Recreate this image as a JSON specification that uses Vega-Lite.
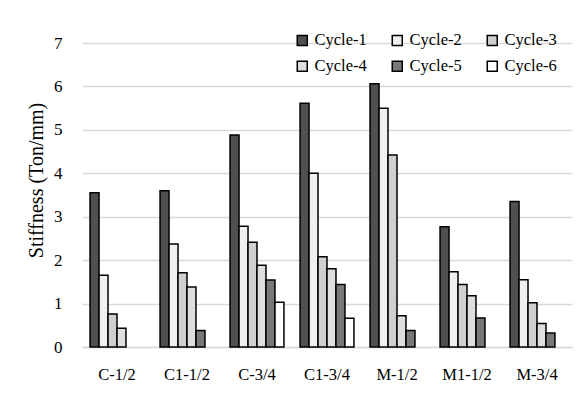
{
  "$schema": "https://vega.github.io/schema/vega-lite/v6.json",
  "width": 490,
  "height": 304,
  "autosize": {"type": "none"},
  "padding": {"left": 82, "top": 43, "right": 13, "bottom": 46},
  "background": "white",
  "config": {
    "view": {"stroke": null},
    "font": "Liberation Serif"
  },
  "data": {
    "values": [
      {"specimen": "C-1/2", "cycle": "Cycle-1", "stiffness": 3.55},
      {"specimen": "C-1/2", "cycle": "Cycle-2", "stiffness": 1.65},
      {"specimen": "C-1/2", "cycle": "Cycle-3", "stiffness": 0.76},
      {"specimen": "C-1/2", "cycle": "Cycle-4", "stiffness": 0.43},
      {"specimen": "C1-1/2", "cycle": "Cycle-1", "stiffness": 3.6},
      {"specimen": "C1-1/2", "cycle": "Cycle-2", "stiffness": 2.37},
      {"specimen": "C1-1/2", "cycle": "Cycle-3", "stiffness": 1.71},
      {"specimen": "C1-1/2", "cycle": "Cycle-4", "stiffness": 1.38},
      {"specimen": "C1-1/2", "cycle": "Cycle-5", "stiffness": 0.38},
      {"specimen": "C-3/4", "cycle": "Cycle-1", "stiffness": 4.88},
      {"specimen": "C-3/4", "cycle": "Cycle-2", "stiffness": 2.78},
      {"specimen": "C-3/4", "cycle": "Cycle-3", "stiffness": 2.41},
      {"specimen": "C-3/4", "cycle": "Cycle-4", "stiffness": 1.88},
      {"specimen": "C-3/4", "cycle": "Cycle-5", "stiffness": 1.54},
      {"specimen": "C-3/4", "cycle": "Cycle-6", "stiffness": 1.03},
      {"specimen": "C1-3/4", "cycle": "Cycle-1", "stiffness": 5.61},
      {"specimen": "C1-3/4", "cycle": "Cycle-2", "stiffness": 4.0},
      {"specimen": "C1-3/4", "cycle": "Cycle-3", "stiffness": 2.08},
      {"specimen": "C1-3/4", "cycle": "Cycle-4", "stiffness": 1.8},
      {"specimen": "C1-3/4", "cycle": "Cycle-5", "stiffness": 1.44},
      {"specimen": "C1-3/4", "cycle": "Cycle-6", "stiffness": 0.66},
      {"specimen": "M-1/2", "cycle": "Cycle-1", "stiffness": 6.06},
      {"specimen": "M-1/2", "cycle": "Cycle-2", "stiffness": 5.5},
      {"specimen": "M-1/2", "cycle": "Cycle-3", "stiffness": 4.42},
      {"specimen": "M-1/2", "cycle": "Cycle-4", "stiffness": 0.72},
      {"specimen": "M-1/2", "cycle": "Cycle-5", "stiffness": 0.38},
      {"specimen": "M1-1/2", "cycle": "Cycle-1", "stiffness": 2.77},
      {"specimen": "M1-1/2", "cycle": "Cycle-2", "stiffness": 1.73},
      {"specimen": "M1-1/2", "cycle": "Cycle-3", "stiffness": 1.44},
      {"specimen": "M1-1/2", "cycle": "Cycle-4", "stiffness": 1.18},
      {"specimen": "M1-1/2", "cycle": "Cycle-5", "stiffness": 0.67},
      {"specimen": "M-3/4", "cycle": "Cycle-1", "stiffness": 3.35},
      {"specimen": "M-3/4", "cycle": "Cycle-2", "stiffness": 1.55},
      {"specimen": "M-3/4", "cycle": "Cycle-3", "stiffness": 1.02},
      {"specimen": "M-3/4", "cycle": "Cycle-4", "stiffness": 0.54},
      {"specimen": "M-3/4", "cycle": "Cycle-5", "stiffness": 0.32}
    ]
  },
  "mark": {"type": "bar", "stroke": "#000", "strokeWidth": 1.5},
  "encoding": {
    "x": {
      "field": "specimen", "type": "nominal", "sort": null,
      "scale": {"paddingInner": 0.23, "paddingOuter": 0.115},
      "axis": {"title": null, "labelAngle": 0, "ticks": false, "labelPadding": 19, "domainColor": "#d9d9d9", "domainWidth": 1.5, "labelFont": "Liberation Serif", "labelFontSize": 16.5, "labelColor": "#000"}
    },
    "xOffset": {
      "field": "cycle", "type": "nominal",
      "scale": {"domain": ["Cycle-1", "Cycle-2", "Cycle-3", "Cycle-4", "Cycle-5", "Cycle-6"], "paddingInner": 0, "paddingOuter": 0}
    },
    "y": {
      "field": "stiffness", "type": "quantitative",
      "scale": {"domain": [0, 7], "nice": false},
      "axis": {"title": "Stiffness (Ton/mm)", "values": [0, 1, 2, 3, 4, 5, 6, 7], "domain": false, "ticks": false, "labelPadding": 20, "titlePadding": 7, "titleY": 137, "titleAlign": "center", "gridColor": "#d9d9d9", "gridWidth": 1.5, "labelFont": "Liberation Serif", "labelFontSize": 17, "labelColor": "#000", "titleFont": "Liberation Serif", "titleFontSize": 20, "titleFontWeight": "normal", "titleColor": "#000"}
    },
    "fill": {
      "field": "cycle", "type": "nominal",
      "scale": {"domain": ["Cycle-1", "Cycle-2", "Cycle-3", "Cycle-4", "Cycle-5", "Cycle-6"], "range": ["#505050", "#f0f0f0", "#cfcfcf", "#dedede", "#787878", "#ffffff"]},
      "legend": {"title": null, "orient": "none", "legendX": 212, "legendY": -11, "columns": 3, "direction": "horizontal", "symbolType": "square", "symbolSize": 100, "symbolStrokeColor": "#000", "symbolStrokeWidth": 1.5, "labelOffset": 4, "columnPadding": 22, "rowPadding": 9, "padding": 0, "labelFont": "Liberation Serif", "labelFontSize": 16.5, "labelColor": "#000", "labelLimit": 200}
    }
  }
}
